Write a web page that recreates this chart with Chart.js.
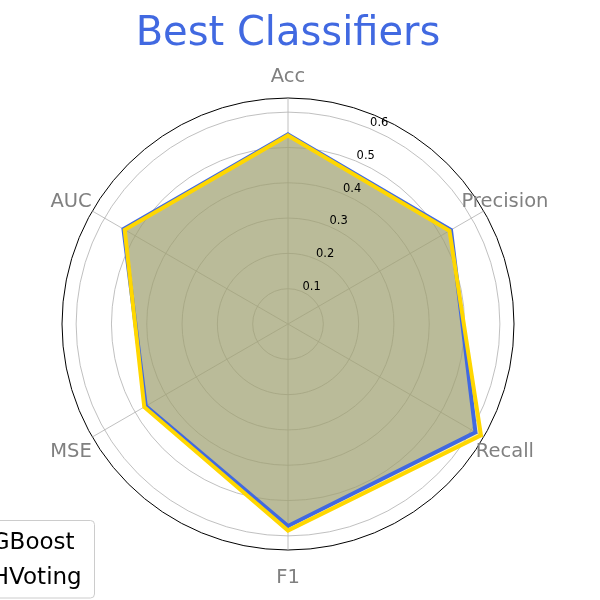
<!DOCTYPE html>
<html><head><meta charset="utf-8">
<script src="https://cdn.jsdelivr.net/npm/chart.js@4/dist/chart.umd.min.js"></script>
<style>html,body{margin:0;padding:0;background:#fff;overflow:hidden}canvas{display:block}</style>
</head><body>
<canvas id="c" width="600" height="600"></canvas>
<script>
const categories = ['Acc', 'Precision', 'Recall', 'F1', 'MSE', 'AUC'];
const seriesNames = ['GBoost', 'HVoting'];
const gboostValues = [0.537, 0.533, 0.613, 0.572, 0.465, 0.538];
const hvotingValues = [0.534, 0.528, 0.631, 0.585, 0.470, 0.534];
const tickValues = [0.1, 0.2, 0.3, 0.4, 0.5, 0.6];
const radialMax = 0.64;

const FONT = "'DejaVu Sans', 'Liberation Sans', sans-serif";

const overlayPlugin = {
  id: 'overlay',
  afterDraw(chart) {
    const ctx = chart.ctx;
    const scale = chart.scales.r;
    ctx.save();
    // radial tick labels at 22.5deg clockwise from top
    ctx.font = '11.5px ' + FONT;
    ctx.fillStyle = '#000';
    ctx.textAlign = 'left';
    ctx.textBaseline = 'bottom';
    tickValues.forEach(v => {
      const d = scale.getDistanceFromCenterForValue(v);
      const p = scale.getPointPosition(22.5 / 60, d);
      ctx.fillText(v.toFixed(1), p.x + 1, p.y + 1);
    });
    // category labels
    ctx.font = '19.5px ' + FONT;
    ctx.fillStyle = '#808080';
    ctx.textAlign = 'center';
    ctx.textBaseline = 'middle';
    const outer = scale.getDistanceFromCenterForValue(radialMax);
    categories.forEach((c, i) => {
      const p = scale.getPointPosition(i, outer * 250.5 / 226);
      ctx.fillText(c, p.x, p.y + 3);
    });
    // legend (partly outside the canvas, like the reference)
    ctx.beginPath();
    ctx.roundRect(-80, 520.5, 174.5, 77.5, 4);
    ctx.fillStyle = 'rgba(255,255,255,0.8)';
    ctx.fill();
    ctx.strokeStyle = '#cccccc';
    ctx.lineWidth = 1;
    ctx.stroke();
    ctx.font = '23px ' + FONT;
    ctx.fillStyle = '#000';
    ctx.textAlign = 'left';
    ctx.textBaseline = 'alphabetic';
    const tx = 81.7 - ctx.measureText(seriesNames[1]).width;
    ctx.fillText(seriesNames[0], tx, 549);
    ctx.fillText(seriesNames[1], tx, 584);
    // legend handles (off-canvas)
    const cols = ['#4169E1', '#FFD700'];
    [541, 576].forEach((y, i) => {
      ctx.beginPath();
      ctx.moveTo(tx - 40, y); ctx.lineTo(tx - 12, y);
      ctx.strokeStyle = cols[i]; ctx.lineWidth = 4; ctx.stroke();
    });
    ctx.restore();
  }
};

new Chart(document.getElementById('c'), {
  type: 'radar',
  data: {
    labels: categories,
    datasets: [
      {
        label: seriesNames[0],
        data: gboostValues,
        borderColor: '#4169E1',
        backgroundColor: 'rgba(65,105,225,0.57)',
        borderWidth: 4,
        fill: true,
        pointRadius: 0,
        order: 1
      },
      {
        label: seriesNames[1],
        data: hvotingValues,
        borderColor: '#FFD700',
        backgroundColor: 'rgba(255,215,0,0.36)',
        borderWidth: 4,
        fill: true,
        pointRadius: 0,
        order: 0
      }
    ]
  },
  options: {
    responsive: false,
    animation: false,
    devicePixelRatio: 1,
    layout: { padding: { left: 62, right: 86, top: 0, bottom: 50 } },
    elements: { line: { tension: 0, borderJoinStyle: 'miter' } },
    plugins: {
      filler: { drawTime: 'beforeDatasetsDraw' },
      legend: { display: false },
      tooltip: { enabled: false },
      title: {
        display: true,
        text: 'Best Classifiers',
        color: '#4169E1',
        font: { family: FONT, size: 40, weight: 'normal', lineHeight: 1.2 },
        padding: { top: 11, bottom: 39 }
      }
    },
    scales: {
      r: {
        min: 0,
        max: radialMax,
        afterBuildTicks: (scale) => {
          scale.ticks = [0].concat(tickValues, [radialMax]).map(v => ({ value: v }));
        },
        ticks: { display: false },
        pointLabels: { display: false },
        grid: {
          circular: true,
          color: (c) => (c.tick && c.tick.value >= radialMax - 1e-9) ? '#000000' : '#b0b0b0',
          lineWidth: (c) => (c.tick && c.tick.value >= radialMax - 1e-9) ? 1 : 0.8
        },
        angleLines: { color: '#b0b0b0', lineWidth: 0.8 }
      }
    }
  },
  plugins: [overlayPlugin]
});
</script>
</body></html>
